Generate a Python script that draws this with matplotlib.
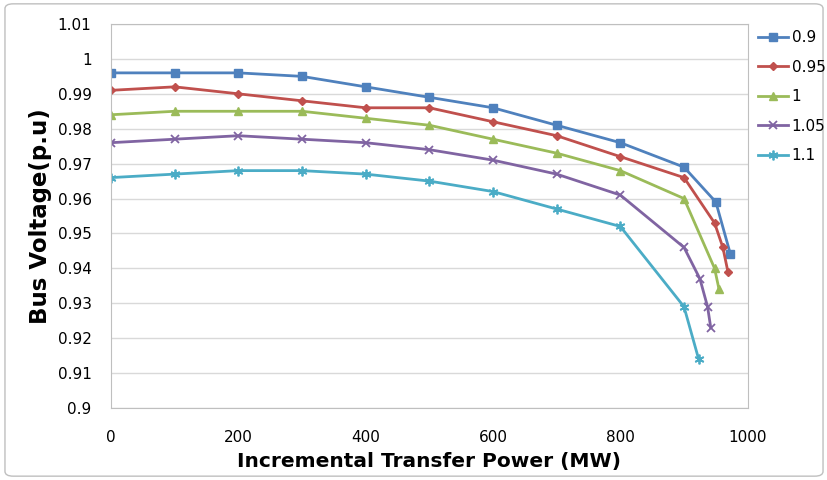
import numpy as np
import matplotlib.pyplot as plt
from matplotlib.patches import FancyBboxPatch

# data
x_09 = [0, 100, 200, 300, 400, 500, 600, 700, 800, 900, 950, 973]
v_09 = [0.996, 0.996, 0.996, 0.995, 0.992, 0.989, 0.986, 0.981, 0.976, 0.969, 0.959, 0.944]
x_095 = [0, 100, 200, 300, 400, 500, 600, 700, 800, 900, 948, 961, 969]
v_095 = [0.991, 0.992, 0.990, 0.988, 0.986, 0.986, 0.982, 0.978, 0.972, 0.966, 0.953, 0.946, 0.939]
x_1 = [0, 100, 200, 300, 400, 500, 600, 700, 800, 900, 948, 955]
v_1 = [0.984, 0.985, 0.985, 0.985, 0.983, 0.981, 0.977, 0.973, 0.968, 0.960, 0.940, 0.934]
x_105 = [0, 100, 200, 300, 400, 500, 600, 700, 800, 900, 925, 937, 942]
v_105 = [0.976, 0.977, 0.978, 0.977, 0.976, 0.974, 0.971, 0.967, 0.961, 0.946, 0.937, 0.929, 0.923]
x_11 = [0, 100, 200, 300, 400, 500, 600, 700, 800, 900, 923]
v_11 = [0.966, 0.967, 0.968, 0.968, 0.967, 0.965, 0.962, 0.957, 0.952, 0.929, 0.914]

series = [
    ('0.9', x_09, v_09, '#4F81BD', 's', 6),
    ('0.95', x_095, v_095, '#C0504D', 'D', 4.5),
    ('1', x_1, v_1, '#9BBB59', '^', 6),
    ('1.05', x_105, v_105, '#8064A2', 'x', 6),
    ('1.1', x_11, v_11, '#4BACC6', (6, 2, 0), 7),
]

fig = plt.figure(figsize=(8.28, 4.8), dpi=100)
fig.patches.append(FancyBboxPatch((0.006, 0.008), 0.988, 0.984, boxstyle='round,pad=0,rounding_size=0.01',
                                  transform=fig.transFigure, fill=False, ec='#BFBFBF', lw=1))
ax = fig.add_axes([0.134, 0.15, 0.769, 0.80])

for lab, xs, vs, c, m, ms in series:
    ax.plot(xs, vs, color=c, marker=m, markersize=ms, lw=2, label=lab,
            markeredgewidth=1.3 if m in ('x', (6, 2, 0)) else 1)

ax.set_xlim(0, 1000)
ax.set_ylim(0.9, 1.01)
ax.set_xticks(np.arange(0, 1001, 200))
ax.set_yticks(np.round(np.arange(0.9, 1.0101, 0.01), 2))
ax.set_yticklabels(['0.9', '0.91', '0.92', '0.93', '0.94', '0.95', '0.96', '0.97', '0.98', '0.99', '1', '1.01'])
ax.tick_params(axis='x', length=0, labelsize=11, pad=16)
ax.tick_params(axis='y', length=0, labelsize=11, pad=14)
ax.grid(axis='y', color='#D9D9D9', lw=1)
ax.set_axisbelow(True)
for s in ax.spines.values():
    s.set_color('#BFBFBF')

ax.set_xlabel('Incremental Transfer Power (MW)', fontsize=14.5, fontweight='bold', labelpad=5)
ax.set_ylabel('Bus Voltage(p.u)', fontsize=16.5, fontweight='bold', labelpad=4)

fig.legend(loc='upper left', bbox_to_anchor=(0.908, 0.95), frameon=False, fontsize=11,
           handlelength=2.0, labelspacing=0.95, handletextpad=0.2, borderaxespad=0)

fig.savefig('out.png', dpi=100)
